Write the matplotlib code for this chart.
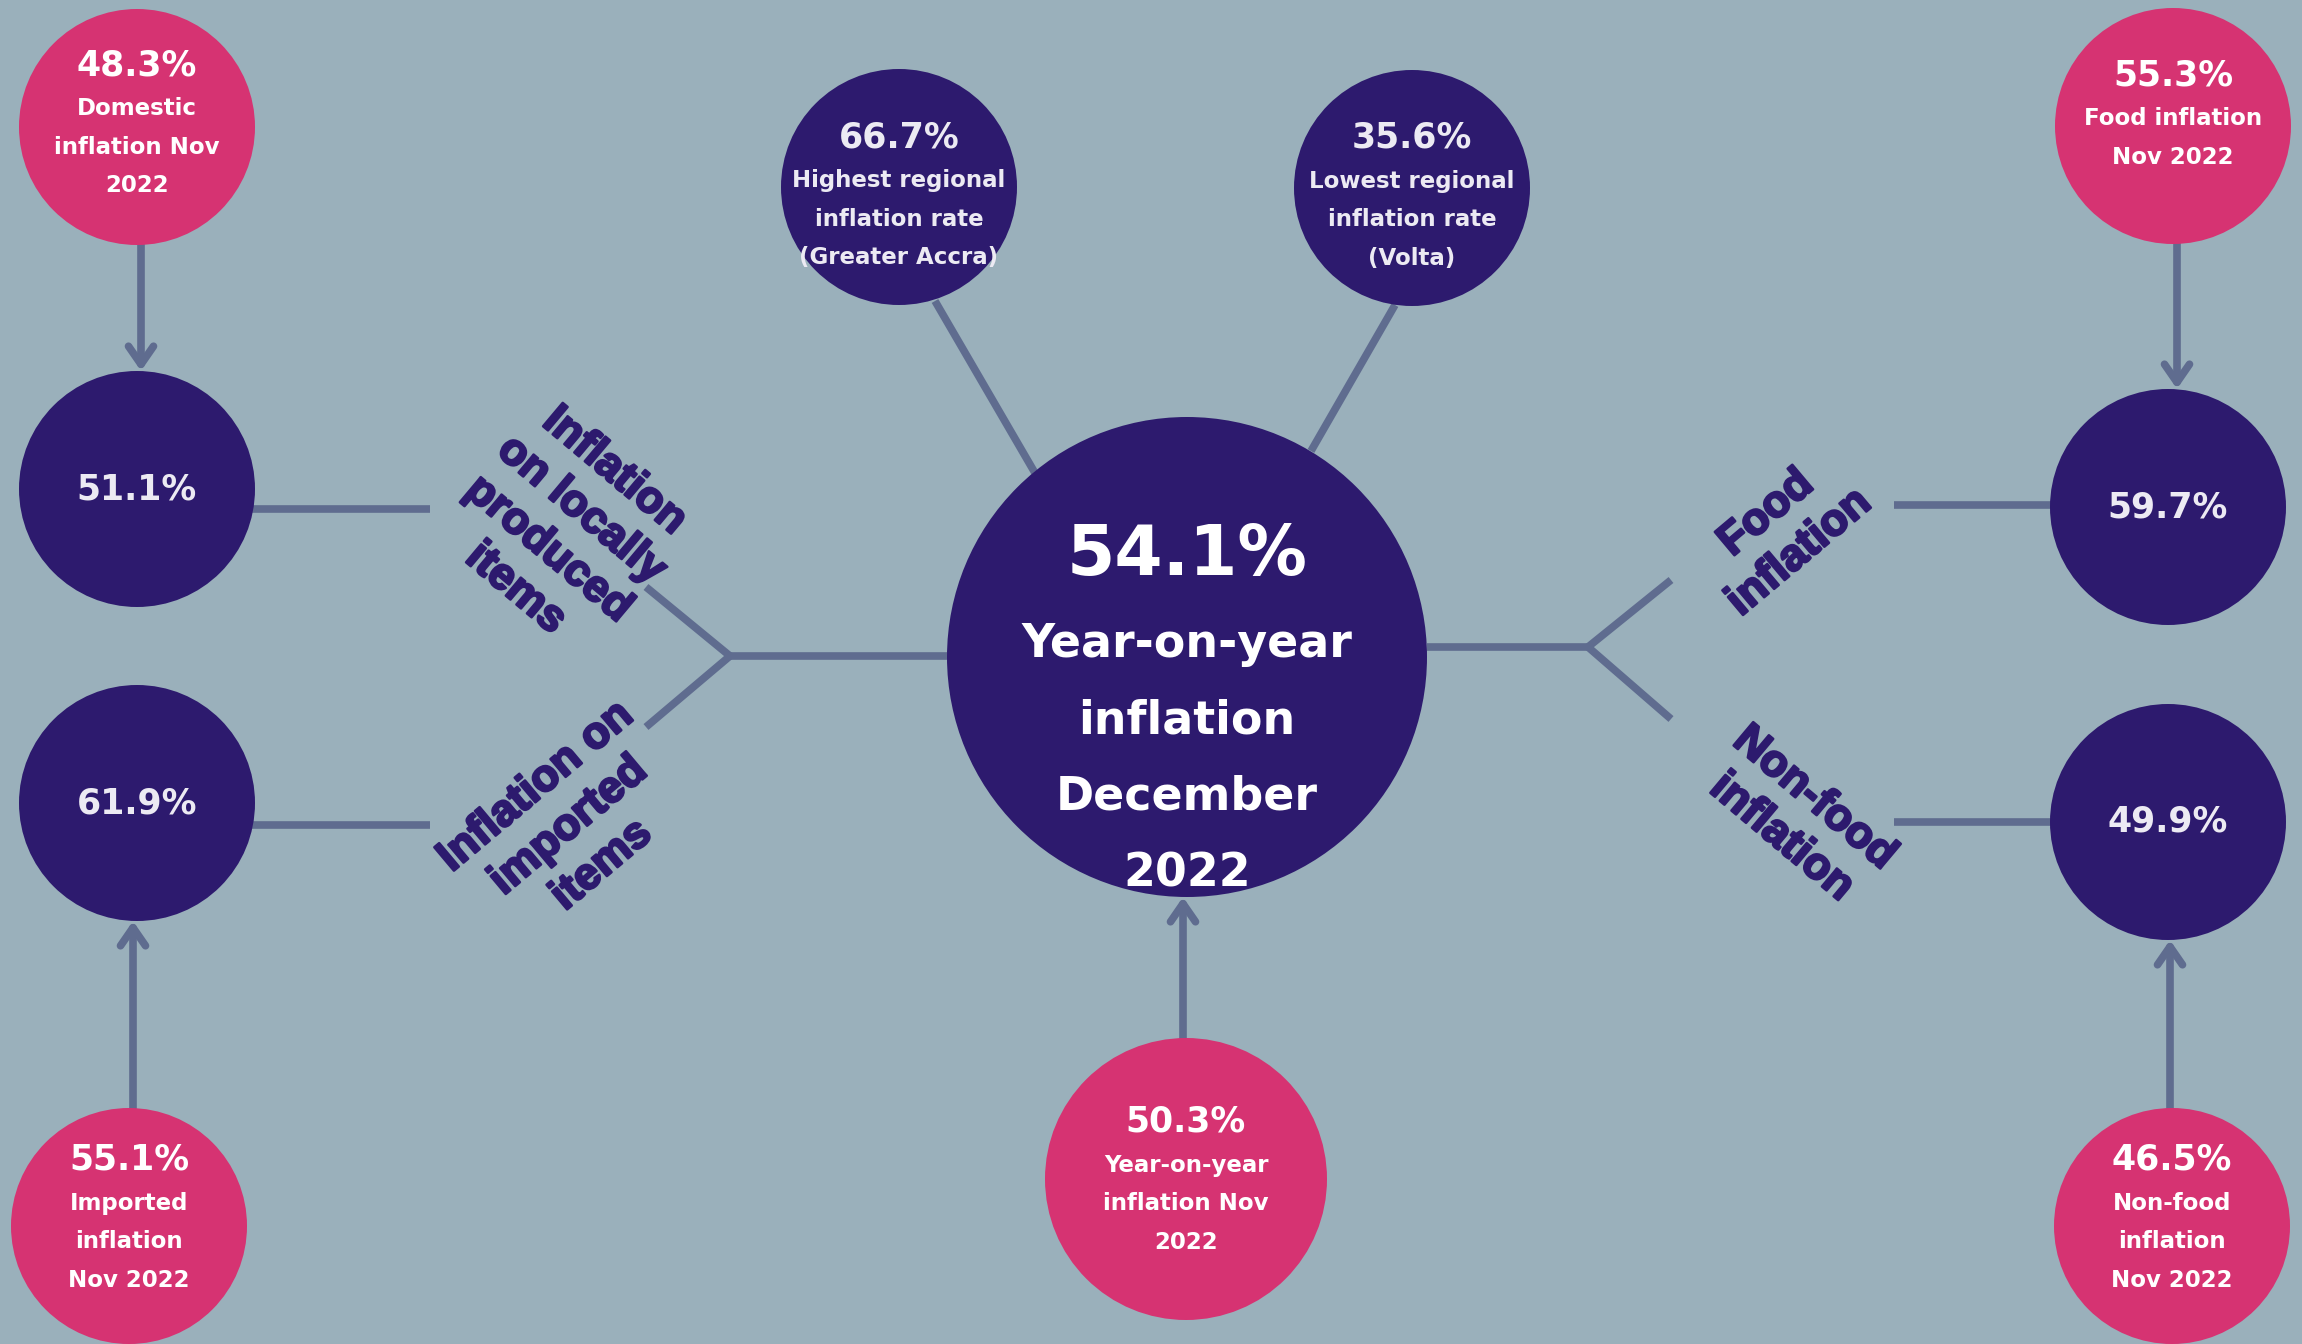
import matplotlib
matplotlib.use('Agg')
import matplotlib.pyplot as plt
import matplotlib.patheffects as pe
from matplotlib.patches import Circle

# Colours
BG = '#9AB0BB'
NAVY = '#2D1A6E'
PINK = '#D63372'
LINE = '#5F6C8F'
PALE = '#ECEAF3'
FONT = 'DejaVu Sans'
LABEL_FONT = 'Liberation Sans'

headline_value = '54.1%'
headline_label = ['Year-on-year', 'inflation', 'December', '2022']

region_values = ['66.7%', '35.6%']
region_labels = [['Highest regional', 'inflation rate', '(Greater Accra)'],
                 ['Lowest regional', 'inflation rate', '(Volta)']]

dec_values = ['51.1%', '61.9%', '59.7%', '49.9%']

nov_values = ['48.3%', '55.1%', '50.3%', '55.3%', '46.5%']
nov_labels = [['Domestic', 'inflation Nov', '2022'],
              ['Imported', 'inflation', 'Nov 2022'],
              ['Year-on-year', 'inflation Nov', '2022'],
              ['Food inflation', 'Nov 2022'],
              ['Non-food', 'inflation', 'Nov 2022']]

branch_labels = ['Inflation\non locally\nproduced\nitems',
                 'Inflation on\nimported\nitems',
                 'Food\ninflation',
                 'Non-food\ninflation']

# Layout in pixel coordinates (x, y, radius)
W, H = 2302, 1344
center = (1187, 657, 240)
region_pos = [(899, 187, 118), (1412, 188, 118)]
dec_pos = [(137, 489, 118), (137, 803, 118), (2168, 507, 118), (2168, 822, 118)]
nov_pos = [(137, 127, 118), (129, 1226, 118), (1186, 1179, 141),
           (2173, 126, 118), (2172, 1226, 118)]
nov_offset = [-52, -56, -47, -41, -56]
branch_pos = [(565, 530, -40), (569, 826, 40), (1783, 533, 40), (1798, 818, -40)]

fig = plt.figure(figsize=(W / 100, H / 100), dpi=100)
fig.patch.set_facecolor(BG)
ax = fig.add_axes([0, 0, 1, 1])
ax.set_xlim(0, W)
ax.set_ylim(H, 0)
ax.set_aspect('equal')
ax.axis('off')
ax.set_facecolor(BG)


def seg(x0, y0, x1, y1):
    ax.plot([x0, x1], [y0, y1], color=LINE, lw=5.5, solid_capstyle='butt', zorder=1)


def arrow(x, y_from, y_to):
    ax.annotate('', xy=(x, y_to), xytext=(x, y_from),
                arrowprops=dict(arrowstyle='->,head_length=1.3,head_width=0.9',
                                mutation_scale=10, color=LINE, lw=5.5,
                                shrinkA=0, shrinkB=0, capstyle='round',
                                joinstyle='round'), zorder=1)


def disc(pos, colour):
    x, y, r = pos
    ax.add_patch(Circle((x, y), r, facecolor=colour, edgecolor='none', zorder=2))


def stacked(pos, value, lines, dy, colour, step=38.5):
    x, y, r = pos
    ax.text(x, y + dy, value, ha='center', va='baseline', fontsize=25,
            fontweight='bold', family=FONT, color=colour, zorder=3)
    for i, line in enumerate(lines):
        ax.text(x, y + dy + 40 + i * step, line, ha='center', va='baseline',
                fontsize=16.5, fontweight='bold', family=FONT, color=colour, zorder=3)


# Connectors
cx, cy, cr = center
seg(935, 301, 1035, 473)     # highest regional
seg(1395, 305, 1311, 451)    # lowest regional
# left fork
seg(cx - cr, 656, 730, 656)
seg(730, 656, 646, 587)
seg(730, 656, 646, 727)
seg(252, 509, 430, 509)
seg(252, 825, 430, 825)
# right fork
seg(cx + cr, 647, 1588, 647)
seg(1588, 647, 1671, 580)
seg(1588, 647, 1671, 719)
seg(1894, 505, 2051, 505)
seg(1894, 822, 2051, 822)

# Arrows from November to December figures
arrow(141, 245, 371)
arrow(133, 1108, 921)
arrow(1183, 1038, 897)
arrow(2177, 244, 389)
arrow(2170, 1108, 940)

# Central headline circle
disc(center, NAVY)
ax.text(cx, cy - 82, headline_value, ha='center', va='baseline', fontsize=50,
        fontweight='bold', family=FONT, color='white', zorder=3)
for i, line in enumerate(headline_label):
    ax.text(cx, cy + i * 76.5, line, ha='center', va='baseline', fontsize=33,
            fontweight='bold', family=FONT, color='white', zorder=3)

for pos, val, lab in zip(region_pos, region_values, region_labels):
    disc(pos, NAVY)
    stacked(pos, val, lab, -40, PALE)

for pos, val in zip(dec_pos, dec_values):
    disc(pos, NAVY)
    ax.text(pos[0], pos[1], val, ha='center', va='center', fontsize=25,
            fontweight='bold', family=FONT, color=PALE, zorder=3)

for pos, val, lab, dy in zip(nov_pos, nov_values, nov_labels, nov_offset):
    disc(pos, PINK)
    stacked(pos, val, lab, dy, 'white')

# Rotated branch captions, thickened a little to match the heavy lettering
for (x, y, rot), lab in zip(branch_pos, branch_labels):
    ax.text(x, y, lab, ha='center', va='center', rotation=rot, fontsize=32,
            fontweight='bold', style='normal', family=LABEL_FONT, color=NAVY,
            linespacing=1.32, multialignment='center', zorder=3,
            path_effects=[pe.withStroke(linewidth=1.8, foreground=NAVY)])

fig.savefig('out.png', dpi=100, facecolor=BG)
